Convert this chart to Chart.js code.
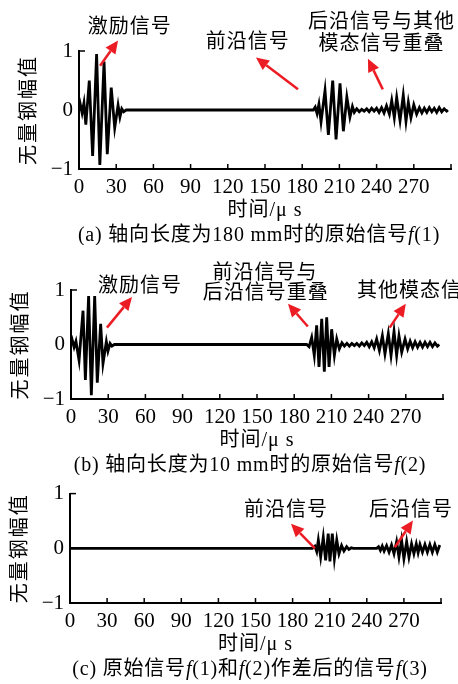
<!DOCTYPE html>
<html>
<head>
<meta charset="utf-8">
<script src="https://cdn.jsdelivr.net/npm/chart.js@4.4.0/dist/chart.umd.min.js"></script>
<style>
html, body { margin: 0; padding: 0; background: #fff; }
#wrap { position: relative; width: 458px; height: 684px; overflow: hidden; }
canvas { position: absolute; left: 0; }
</style>
</head>
<body>
<div id="wrap">
  <canvas id="chartA" width="458" height="245" style="top:0px"></canvas>
  <canvas id="chartB" width="458" height="230" style="top:245px"></canvas>
  <canvas id="chartC" width="458" height="209" style="top:475px"></canvas>
</div>
<script>
// x axis: time in microseconds, ticks every 30 (label at 300 left blank)
var xTickValues = [0, 30, 60, 90, 120, 150, 180, 210, 240, 270, 300];
var xTickLabels = ['0', '30', '60', '90', '120', '150', '180', '210', '240', '270', ''];
var yTickValues = [-1, 0, 1];
var yTickLabels = ['\u22121', '0', '1'];

// (a) original signal f(1), axial length 180 mm
var timeA = [0, 1, 2.5, 4, 5.5, 8.3, 11, 14.2, 16.8, 20.2, 22.8, 26, 28.8, 31.5, 33, 34.5, 36, 38,
  189, 190.5, 192, 193.5, 195.2, 198.4, 201.1, 204.6, 207.3, 210.5, 213.2, 216, 218.5, 220.5, 222,
  224, 226, 228, 230, 232, 234, 236, 238, 240, 242, 244, 246, 248,
  250.3, 252.2, 254.3, 256.2, 258.9, 261.5, 263.7, 265.6, 267.7, 270, 272.3,
  274.5, 276.5, 278.5, 280.5, 282.5, 284.5, 286.5, 288.5, 290.5, 292.5, 294.5, 296.5, 297.5];
var ampA = [0, 0.1, -0.05, 0.12, -0.25, 0.5, -0.78, 0.95, -0.93, 0.82, -0.75, 0.38, -0.3, 0.08, -0.12, 0.02, -0.03, 0,
  0, 0.05, -0.06, 0.1, -0.2, 0.33, -0.42, 0.5, -0.5, 0.45, -0.36, 0.22, -0.12, 0.06, -0.04,
  0.02, -0.03, 0.01, -0.02, 0.02, -0.03, 0.03, -0.02, 0.03, -0.04, 0.04, -0.05, 0.07,
  -0.07, 0.16, -0.13, 0.21, -0.18, 0.25, -0.19, 0.13, -0.13, 0.09, -0.07,
  0.04, -0.05, 0.03, -0.04, 0.04, -0.03, 0.03, -0.04, 0.04, -0.03, 0.02, -0.02, 0];

// (b) original signal f(2), axial length 10 mm
var timeB = [0, 1, 2.5, 4, 6.5, 9.7, 11.6, 14.2, 16.4, 19.1, 21.2, 23.9, 25.8, 28.5, 29.8, 31.5, 33, 35,
  190, 192, 194.1, 196.2, 198.1, 200, 202.2, 204.3, 206.2, 208.1, 210.2, 212.4, 214.3, 216.4, 218.5,
  220.5, 222.5, 224.5, 226.5, 228.5, 230.5, 232.5, 234.5, 236.5, 238.5, 240.5, 242.5, 244.5,
  246.5, 248.7, 251.1, 253.2, 255.9, 258.1, 260.5, 262.6, 264.5, 266.7, 269.4, 271.5,
  273.5, 275.5, 277.5, 279.5, 281.5, 283.5, 285.5, 287.5, 289.5, 291.5, 293.5, 295.5, 297];
var ampB = [0, 0.08, -0.05, 0.06, -0.29, 0.62, -0.65, 0.89, -0.93, 0.89, -0.7, 0.38, -0.35, 0.05, -0.12, 0.02, -0.03, 0,
  0, -0.04, 0.13, -0.2, 0.35, -0.41, 0.47, -0.5, 0.5, -0.41, 0.28, -0.2, 0.1, -0.08, 0.03,
  -0.03, 0.02, -0.03, 0.02, -0.02, 0.02, -0.03, 0.03, -0.02, 0.04, -0.04, 0.05, -0.06,
  0.1, -0.11, 0.16, -0.17, 0.2, -0.2, 0.24, -0.2, 0.16, -0.14, 0.1, -0.08,
  0.06, -0.06, 0.05, -0.05, 0.04, -0.05, 0.04, -0.04, 0.04, -0.04, 0.03, -0.03, 0];

// (c) difference signal f(3) = f(1) - f(2)
var timeC = [0, 196, 198, 199.5, 200.8, 202.7, 204.8, 206.7, 208.8, 210.2, 212.1, 213.8, 215.7, 217.5, 219.6, 221.5, 223.7, 225.5, 227.5, 229,
  248, 249.5, 251, 252.5, 254, 256, 258, 260, 262, 264.1, 266, 268.1, 270, 272.2, 274.1, 276.2, 278.1,
  280, 281.5, 283, 285, 287, 289, 291, 293, 295, 297, 299];
var ampC = [0, 0, 0.04, -0.06, 0.15, -0.16, 0.2, -0.22, 0.27, -0.24, 0.27, -0.19, 0.15, -0.1, 0.05, -0.05, 0.03, -0.02, 0.01, 0,
  0, 0.03, -0.04, 0.04, -0.05, 0.05, -0.07, 0.06, -0.1, 0.12, -0.16, 0.15, -0.19, 0.12, -0.16, 0.08, -0.1,
  0.08, -0.08, 0.07, -0.07, 0.07, -0.07, 0.07, -0.07, 0.07, -0.07, 0.06];

var CJK = '"Noto Sans CJK SC"';
var SERIF = '"Liberation Serif", "Noto Sans CJK SC"';
var RED = '#ec1c24';

function drawArrow(ctx, x1, y1, x2, y2) {
  var ang = Math.atan2(y2 - y1, x2 - x1), hl = 13, hw = 6;
  var bx = x2 - hl * Math.cos(ang), by = y2 - hl * Math.sin(ang);
  ctx.strokeStyle = RED; ctx.fillStyle = RED; ctx.lineWidth = 2.5;
  ctx.beginPath(); ctx.moveTo(x1, y1); ctx.lineTo(bx, by); ctx.stroke();
  ctx.beginPath();
  ctx.moveTo(x2, y2);
  ctx.lineTo(bx + hw * Math.sin(ang), by - hw * Math.cos(ang));
  ctx.lineTo(bx - hw * Math.sin(ang), by + hw * Math.cos(ang));
  ctx.closePath(); ctx.fill();
}

// draw mixed runs [text, italic] centred at cx
function drawRuns(ctx, parts, cx, cy, size, spacing) {
  ctx.letterSpacing = spacing + 'px';
  var total = 0, widths = [];
  parts.forEach(function (p) {
    ctx.font = (p[1] ? 'italic ' : '') + size + 'px ' + SERIF;
    var w = ctx.measureText(p[0]).width;
    widths.push(w); total += w;
  });
  var x = cx - total / 2;
  ctx.textAlign = 'left'; ctx.textBaseline = 'middle'; ctx.fillStyle = '#000';
  parts.forEach(function (p, i) {
    ctx.font = (p[1] ? 'italic ' : '') + size + 'px ' + SERIF;
    ctx.fillText(p[0], x, cy);
    x += widths[i];
  });
  ctx.letterSpacing = '0px';
}

var decor = {
  id: 'decor',
  afterDatasetsDraw: function (chart, args, o) {
    var ctx = chart.ctx, xs = chart.scales.x, ys = chart.scales.y, a = chart.chartArea;
    ctx.save();
    // inward tick marks
    ctx.strokeStyle = '#000'; ctx.lineWidth = 1.5;
    xTickValues.forEach(function (v) {
      if (v === 0) return;
      var px = xs.getPixelForValue(v);
      ctx.beginPath(); ctx.moveTo(px, a.bottom); ctx.lineTo(px, a.bottom - 5); ctx.stroke();
    });
    yTickValues.forEach(function (v) {
      if (v === -1) return;
      var py = ys.getPixelForValue(v);
      ctx.beginPath(); ctx.moveTo(a.left, py); ctx.lineTo(a.left + 6, py); ctx.stroke();
    });
    // red arrows (data units)
    o.arrows.forEach(function (r) {
      drawArrow(ctx, xs.getPixelForValue(r[0]), ys.getPixelForValue(r[1]),
        xs.getPixelForValue(r[2]), ys.getPixelForValue(r[3]));
    });
    // annotation texts (data units)
    ctx.fillStyle = '#000'; ctx.textBaseline = 'middle';
    ctx.font = '20px ' + CJK; ctx.letterSpacing = '1px';
    o.notes.forEach(function (n) {
      ctx.textAlign = n[3] || 'center';
      ctx.fillText(n[0], xs.getPixelForValue(n[1]), ys.getPixelForValue(n[2]));
    });
    // y title
    ctx.save();
    ctx.translate(a.left - 52, (a.top + a.bottom) / 2);
    ctx.rotate(-Math.PI / 2);
    ctx.textAlign = 'center'; ctx.letterSpacing = '2px';
    ctx.font = '20px ' + CJK;
    ctx.fillText('无量钢幅值', 0, 0);
    ctx.restore();
    // x title and caption
    drawRuns(ctx, [['时间/μ s', false]], (a.left + a.right) / 2, a.bottom + 42, 20, 1);
    drawRuns(ctx, o.caption, o.captionX, a.bottom + 67, 20, 0.8);
    ctx.restore();
  }
};

function makeChart(id, times, amps, box, deco) {
  var canvas = document.getElementById(id);
  var H = canvas.height;
  var pts = times.map(function (t, i) { return { x: t, y: amps[i] }; });
  return new Chart(canvas.getContext('2d'), {
    type: 'line',
    data: { datasets: [{ data: pts, borderColor: '#000', borderWidth: 2.8, pointRadius: 0, tension: 0, fill: false }] },
    options: {
      responsive: false, animation: false, devicePixelRatio: 1,
      layout: { padding: { left: 0, right: 458 - box.right, top: box.top, bottom: 0 } },
      plugins: { legend: { display: false }, tooltip: { enabled: false }, decor: deco },
      scales: {
        x: {
          type: 'linear', min: 0, max: 300,
          grid: { display: false, drawTicks: false },
          border: { display: true, color: '#000', width: 2 },
          afterBuildTicks: function (s) { s.ticks = xTickValues.map(function (v) { return { value: v }; }); },
          ticks: {
            autoSkip: false, maxRotation: 0, padding: 6, color: '#000',
            font: { family: SERIF, size: 21 },
            callback: function (v) { return xTickLabels[xTickValues.indexOf(v)]; }
          },
          afterFit: function (s) { s.height = H - box.bottom; }
        },
        y: {
          min: -1, max: 1,
          grid: { display: false, drawTicks: false },
          border: { display: true, color: '#000', width: 2 },
          afterBuildTicks: function (s) { s.ticks = yTickValues.map(function (v) { return { value: v }; }); },
          ticks: {
            padding: 6, color: '#000',
            font: { family: SERIF, size: 21 },
            callback: function (v) { return yTickLabels[yTickValues.indexOf(v)]; }
          },
          afterFit: function (s) { s.width = box.left; }
        }
      }
    },
    plugins: [decor]
  });
}

makeChart('chartA', timeA, ampA, { left: 79, right: 451, top: 51, bottom: 169 }, {
  arrows: [[17, 0.75, 31.5, 1.18], [176.6, 0.35, 142.7, 0.89], [245, 0.35, 233, 0.87]],
  notes: [['激励信号', 41, 1.43], ['前沿信号', 136, 1.18], ['后沿信号与其他', 244, 1.52], ['模态信号重叠', 244, 1.14]],
  caption: [['(a) 轴向长度为180 mm时的原始信号', false], ['f', true], ['(1)', false]],
  captionX: 259
});

makeChart('chartB', timeB, ampB, { left: 71, right: 443, top: 45, bottom: 154 }, {
  arrows: [[29, 0.31, 49.2, 0.87], [191, 0.33, 175, 0.75], [257, 0.31, 270, 0.75]],
  notes: [['激励信号', 55.6, 1.11], ['前沿信号与', 156.5, 1.35], ['后沿信号重叠', 157, 0.98], ['其他模态信号', 230.6, 1.02, 'left']],
  caption: [['(b) 轴向长度为10 mm时的原始信号', false], ['f', true], ['(2)', false]],
  captionX: 250
});

makeChart('chartC', timeC, ampC, { left: 70, right: 441, top: 18, bottom: 128 }, {
  arrows: [[198, 0, 178.7, 0.45], [262.7, 0.02, 277.3, 0.51]],
  notes: [['前沿信号', 174.6, 0.73], ['后沿信号', 275.7, 0.73]],
  caption: [['(c) 原始信号', false], ['f', true], ['(1)和', false], ['f', true], ['(2)作差后的信号', false], ['f', true], ['(3)', false]],
  captionX: 250
});
</script>
</body>
</html>
